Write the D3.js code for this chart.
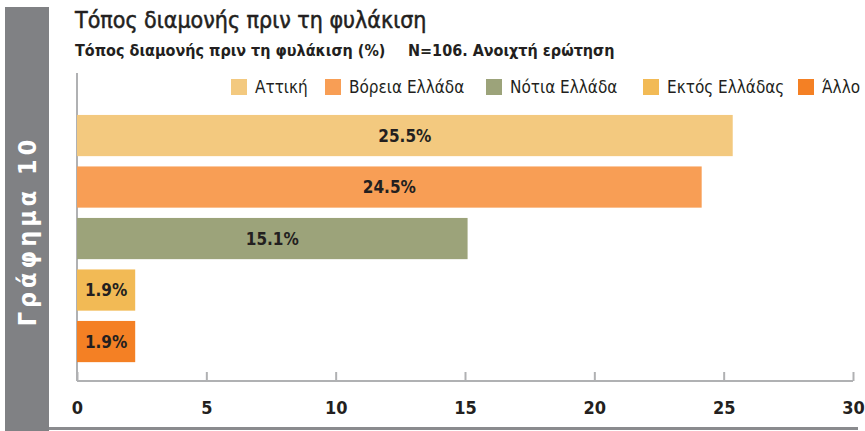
<!DOCTYPE html>
<html>
<head>
<meta charset="utf-8">
<script src="https://cdn.jsdelivr.net/npm/d3@7"></script>
<style>
  body { margin: 0; background: #fff; }
  svg { display: block; }
  text { font-family: "Liberation Sans Narrow", "DejaVu Sans Condensed", "Roboto Condensed", sans-serif; }
</style>
</head>
<body>
<script>
// data
const categories = ['Αττική', 'Βόρεια Ελλάδα', 'Νότια Ελλάδα', 'Εκτός Ελλάδας', 'Άλλο'];
const barValues = [25.35, 24.15, 15.1, 2.25, 2.25];
const barLabels = ['25.5%', '24.5%', '15.1%', '1.9%', '1.9%'];
const colors = ['#f3c97f', '#f89e55', '#9ca37a', '#f2ba55', '#f48024'];
const xTicks = [0, 5, 10, 15, 20, 25, 30];

const width = 865, height = 431;
const svg = d3.select('body').append('svg').attr('width', width).attr('height', height);

// grey side panel + bottom rule
svg.append('rect').attr('x', 5).attr('y', 7).attr('width', 44).attr('height', height - 7).attr('fill', '#808184');
svg.append('rect').attr('x', 49).attr('y', 427).attr('width', 809).attr('height', 3).attr('fill', '#8a8b8e');
svg.append('text')
  .attr('transform', 'translate(36,231)rotate(-90)')
  .attr('text-anchor', 'middle')
  .attr('fill', '#fff')
  .style('font-size', '25px')
  .style('font-weight', 'bold')
  .style('letter-spacing', '4px')
  .text('Γράφημα 10');

// titles
svg.append('text').attr('x', 75).attr('y', 28)
  .attr('fill', '#231f20').attr('stroke', '#231f20').attr('stroke-width', 0.5)
  .style('font-size', '23px')
  .text('Τόπος διαμονής πριν τη φυλάκιση');
svg.append('text').attr('x', 75).attr('y', 56)
  .attr('fill', '#231f20').style('font-size', '16px').style('font-weight', 'bold')
  .text('Τόπος διαμονής πριν τη φυλάκιση (%)');
svg.append('text').attr('x', 408).attr('y', 56)
  .attr('fill', '#231f20').style('font-size', '16px').style('font-weight', 'bold')
  .text('N=106. Ανοιχτή ερώτηση');

const x = d3.scaleLinear().domain([0, 30]).range([77, 853]);
const y = d3.scaleBand().domain(categories).range([109.8, 367.3]).paddingInner(0.2).paddingOuter(0.1);

// legend
const legendX = [231, 325, 486, 643, 798];
const legend = svg.append('g').selectAll('g')
  .data(categories)
  .enter().append('g')
  .attr('transform', (d, i) => `translate(${legendX[i]},79)`);
legend.append('rect').attr('width', 16).attr('height', 16).attr('fill', (d, i) => colors[i]);
legend.append('text').attr('x', 24).attr('y', 14)
  .attr('fill', '#231f20').style('font-size', '17px')
  .text(d => d);

// left rule
svg.append('line').attr('x1', 77).attr('x2', 77).attr('y1', 73).attr('y2', 381)
  .attr('stroke', '#b0b1b3').attr('stroke-width', 2);

// bars
svg.append('g').selectAll('rect')
  .data(categories)
  .enter().append('rect')
  .attr('x', x(0))
  .attr('y', d => y(d))
  .attr('width', (d, i) => x(barValues[i]) - x(0))
  .attr('height', y.bandwidth())
  .attr('fill', (d, i) => colors[i]);

svg.append('g').selectAll('text')
  .data(categories)
  .enter().append('text')
  .attr('x', (d, i) => (x(0) + x(barValues[i])) / 2)
  .attr('y', d => y(d) + y.bandwidth() / 2 + 6)
  .attr('text-anchor', 'middle')
  .attr('fill', '#231f20')
  .style('font-size', '17px').style('font-weight', 'bold')
  .text((d, i) => barLabels[i]);

// x axis, ticks pointing up
const xAxis = d3.axisBottom(x).tickValues(xTicks).tickSize(-9).tickPadding(20);
const axisG = svg.append('g').attr('transform', 'translate(0,381)').call(xAxis);
axisG.select('.domain').attr('stroke', '#b0b1b3').attr('stroke-width', 2).attr('d', 'M77,0H853');
axisG.selectAll('.tick line').attr('stroke', '#b0b1b3').attr('stroke-width', 2);
axisG.selectAll('.tick text')
  .attr('fill', '#231f20')
  .style('font-size', '18px').style('font-weight', 'bold')
  .style('font-family', '"Liberation Sans Narrow", "DejaVu Sans Condensed", sans-serif');
</script>
</body>
</html>
